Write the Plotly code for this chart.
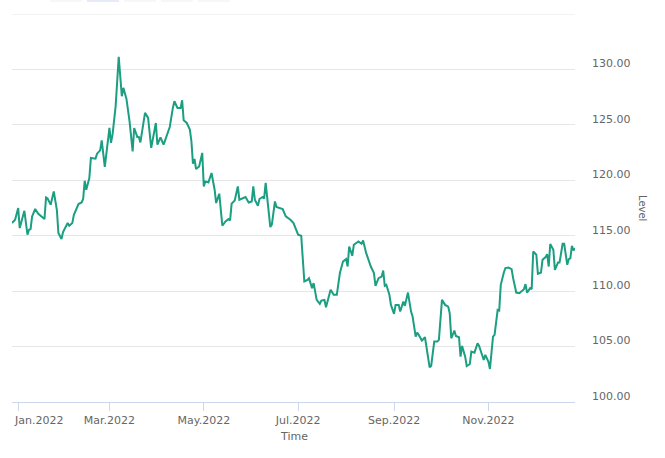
import plotly.graph_objects as go

dates = [
    "2021-12-28", "2021-12-30", "2022-01-01", "2022-01-02", "2022-01-05", "2022-01-07", "2022-01-08",
    "2022-01-09", "2022-01-10", "2022-01-12", "2022-01-14", "2022-01-16", "2022-01-18", "2022-01-19",
    "2022-01-20", "2022-01-22", "2022-01-24", "2022-01-26", "2022-01-27", "2022-01-29", "2022-01-30",
    "2022-02-02", "2022-02-03", "2022-02-05", "2022-02-06", "2022-02-09", "2022-02-11", "2022-02-12",
    "2022-02-13", "2022-02-14", "2022-02-16", "2022-02-17", "2022-02-20", "2022-02-21", "2022-02-23",
    "2022-02-24", "2022-02-26", "2022-03-01", "2022-03-02", "2022-03-03", "2022-03-05", "2022-03-07",
    "2022-03-09", "2022-03-10", "2022-03-12", "2022-03-14", "2022-03-16", "2022-03-17", "2022-03-19",
    "2022-03-20", "2022-03-21", "2022-03-24", "2022-03-26", "2022-03-28", "2022-03-31", "2022-04-01",
    "2022-04-03", "2022-04-05", "2022-04-07", "2022-04-09", "2022-04-11", "2022-04-12", "2022-04-14",
    "2022-04-16", "2022-04-17", "2022-04-18", "2022-04-20", "2022-04-22", "2022-04-23", "2022-04-24",
    "2022-04-25", "2022-04-26", "2022-04-28", "2022-04-30", "2022-05-01", "2022-05-02", "2022-05-04",
    "2022-05-06", "2022-05-08", "2022-05-09", "2022-05-11", "2022-05-12", "2022-05-13", "2022-05-15",
    "2022-05-17", "2022-05-18", "2022-05-19", "2022-05-21", "2022-05-23", "2022-05-24", "2022-05-27",
    "2022-05-28", "2022-05-30", "2022-06-01", "2022-06-02", "2022-06-03", "2022-06-05", "2022-06-06",
    "2022-06-08", "2022-06-09", "2022-06-10", "2022-06-12", "2022-06-13", "2022-06-14", "2022-06-16",
    "2022-06-17", "2022-06-19", "2022-06-21", "2022-06-23", "2022-06-26", "2022-06-28", "2022-06-30",
    "2022-07-01", "2022-07-03", "2022-07-05", "2022-07-07", "2022-07-08", "2022-07-10", "2022-07-11",
    "2022-07-13", "2022-07-15", "2022-07-16", "2022-07-18", "2022-07-19", "2022-07-22", "2022-07-24",
    "2022-07-26", "2022-07-28", "2022-07-30", "2022-08-01", "2022-08-02", "2022-08-03", "2022-08-05",
    "2022-08-06", "2022-08-09", "2022-08-11", "2022-08-12", "2022-08-14", "2022-08-17", "2022-08-19",
    "2022-08-20", "2022-08-22", "2022-08-24", "2022-08-25", "2022-08-26", "2022-08-27", "2022-08-29",
    "2022-08-30", "2022-09-01", "2022-09-02", "2022-09-04", "2022-09-05", "2022-09-07", "2022-09-08",
    "2022-09-10", "2022-09-12", "2022-09-13", "2022-09-15", "2022-09-16", "2022-09-17", "2022-09-19",
    "2022-09-21", "2022-09-22", "2022-09-23", "2022-09-24", "2022-09-25", "2022-09-27", "2022-09-29",
    "2022-09-30", "2022-10-02", "2022-10-04", "2022-10-06", "2022-10-07", "2022-10-08", "2022-10-10",
    "2022-10-11", "2022-10-13", "2022-10-14", "2022-10-15", "2022-10-17", "2022-10-18", "2022-10-20",
    "2022-10-21", "2022-10-23", "2022-10-25", "2022-10-26", "2022-10-28", "2022-10-29", "2022-10-30",
    "2022-11-01", "2022-11-02", "2022-11-03", "2022-11-04", "2022-11-05", "2022-11-07", "2022-11-08",
    "2022-11-09", "2022-11-11", "2022-11-12", "2022-11-14", "2022-11-16", "2022-11-17", "2022-11-18",
    "2022-11-19", "2022-11-21", "2022-11-23", "2022-11-24", "2022-11-25", "2022-11-26", "2022-11-28",
    "2022-11-29", "2022-11-30", "2022-12-02", "2022-12-03", "2022-12-05", "2022-12-06", "2022-12-08",
    "2022-12-09", "2022-12-10", "2022-12-11", "2022-12-13", "2022-12-14", "2022-12-16", "2022-12-17",
    "2022-12-19", "2022-12-20", "2022-12-22", "2022-12-23", "2022-12-24", "2022-12-25", "2022-12-26",
    "2022-12-27",
]

levels = [
    116.14, 116.44, 117.50, 115.69, 117.25, 115.09, 115.54,
    115.60, 116.74, 117.41, 116.98, 116.74, 116.50, 118.45,
    118.36, 117.80, 119.00, 117.34, 115.24, 114.70, 115.33,
    116.14, 115.90, 116.14, 116.89, 117.86, 118.00, 118.31,
    119.96, 119.15, 120.21, 122.01, 121.95, 122.40, 122.70,
    123.60, 121.20, 124.72, 123.37, 124.12, 126.67, 131.14,
    127.58, 128.34, 127.34, 125.32, 122.61, 124.72, 123.91,
    123.91, 123.42, 126.08, 125.63, 122.92, 125.17, 123.21,
    123.87, 123.21, 124.12, 124.81, 126.53, 127.13, 126.53,
    126.53, 127.22, 125.41, 125.17, 124.57, 123.51, 121.50,
    121.92, 121.02, 121.25, 122.47, 119.45, 119.90, 119.81,
    120.66, 119.15, 117.95, 118.79, 117.05, 115.90, 116.29,
    116.50, 116.38, 117.89, 118.18, 119.45, 118.25, 118.40,
    118.49, 118.00, 118.09, 119.45, 118.25, 117.70, 118.31,
    118.49, 118.34, 119.76, 117.34, 115.78, 115.99, 118.09,
    117.59, 117.50, 117.41, 116.74, 116.44, 116.14, 115.54,
    115.09, 114.99, 110.87, 111.02, 111.17, 110.27, 110.72,
    109.21, 108.85, 109.15, 109.21, 108.55, 110.12, 109.67,
    109.67, 111.63, 112.67, 112.89, 112.22, 114.03, 113.19,
    114.18, 114.48, 114.27, 114.57, 113.43, 112.22, 111.63,
    110.48, 111.17, 111.32, 111.86, 110.48, 110.57, 109.67,
    108.76, 107.95, 108.76, 108.76, 108.16, 109.06, 108.67,
    109.87, 108.16, 107.71, 105.90, 106.26, 106.05, 105.54,
    105.84, 104.94, 104.09, 103.13, 103.25, 105.45, 105.45,
    105.60, 109.21, 108.76, 108.61, 108.01, 105.75, 106.44,
    105.96, 105.84, 104.09, 105.06, 104.09, 103.25, 103.43,
    104.54, 104.45, 105.30, 105.06, 104.16, 103.79, 104.25,
    103.64, 102.98, 104.25, 105.90, 106.05, 108.31, 108.25,
    110.57, 111.68, 112.08, 112.13, 111.99, 111.17, 110.57,
    109.87, 109.82, 110.05, 110.18, 110.63, 109.87, 110.27,
    110.18, 113.58, 113.28, 111.56, 111.68, 112.83, 113.07,
    113.34, 112.22, 114.25, 113.73, 111.92, 112.58, 112.58,
    114.27, 114.27, 112.38, 112.89, 112.98, 114.09, 113.67,
    113.88,
]

x_tick_dates = ["2022-01-01", "2022-03-01", "2022-05-01", "2022-07-01", "2022-09-01", "2022-11-01"]
x_tick_labels = ["Jan.2022", "Mar.2022", "May.2022", "Jul.2022", "Sep.2022", "Nov.2022"]
y_ticks = [100, 105, 110, 115, 120, 125, 130]
y_range = [100, 135]

FONT = "DejaVu Sans"
GREY = "#666666"

fig = go.Figure()
fig.add_trace(go.Scatter(
    x=dates, y=levels, mode="lines",
    line=dict(color="#1b9e81", width=2),
    showlegend=False, hoverinfo="x+y",
))

fig.update_layout(
    width=665, height=458,
    margin=dict(l=12, r=90, t=14, b=56),
    paper_bgcolor="white", plot_bgcolor="white",
    font=dict(family=FONT, size=11, color=GREY),
    xaxis=dict(
        type="date",
        range=[dates[0], dates[-1]],
        tickvals=x_tick_dates,
        ticktext=[""] + x_tick_labels[1:],
        ticks="outside", ticklen=8, tickcolor="#ccd6eb", tickwidth=1,
        showgrid=False, zeroline=False,
        showline=True, linecolor="#ccd6eb", linewidth=1,
        tickfont=dict(family=FONT, size=11, color=GREY),
    ),
    yaxis=dict(
        side="right",
        range=y_range,
        tickvals=y_ticks,
        tickformat=".2f",
        showgrid=True, gridcolor="#e6e6e6", gridwidth=1,
        zeroline=False, showline=False,
        ticks="",
        ticklabelstandoff=16,
        ticklabelshift=-6,
        tickfont=dict(family=FONT, size=11, color=GREY),
    ),
)

# top grid line at the range maximum (unlabelled)
fig.add_shape(type="line", xref="paper", yref="y", x0=0, x1=1, y0=y_range[1], y1=y_range[1],
              line=dict(color="#e6e6e6", width=1), layer="below")

# first x tick label, kept inside the chart like the original
fig.add_annotation(x=0, y=0, xref="paper", yref="paper", xanchor="left", yanchor="top",
                   yshift=-10, text=x_tick_labels[0], showarrow=False,
                   font=dict(family=FONT, size=11, color=GREY))

# axis titles
fig.add_annotation(x=0.5, y=-0.09, xref="paper", yref="paper", xanchor="center", yanchor="middle",
                   text="Time", showarrow=False, font=dict(family=FONT, size=11, color=GREY))
fig.add_annotation(x=1.1208, y=0.5, xref="paper", yref="paper", xanchor="center", yanchor="middle",
                   text="Level", textangle=90, showarrow=False,
                   font=dict(family=FONT, size=10, color=GREY))

# range-selector buttons partly visible at the top edge
buttons = [(50, 82, "#f7f7f7"), (87, 119, "#e6ebf5"), (124, 156, "#f7f7f7"),
           (161, 193, "#f7f7f7"), (198, 230, "#f7f7f7")]
for x0, x1, col in buttons:
    fig.add_shape(type="rect", xref="paper", yref="paper",
                  x0=(x0 - 12) / 563, x1=(x1 - 12) / 563,
                  y0=1 + 12 / 388, y1=1 + 30 / 388,
                  fillcolor=col, line=dict(width=0), layer="above")

fig.write_html("out.html")
